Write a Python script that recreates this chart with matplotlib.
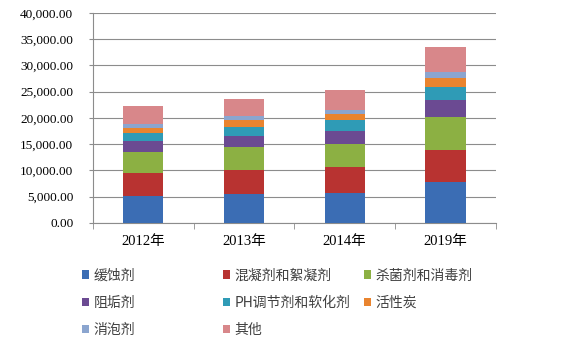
import matplotlib.pyplot as plt
import numpy as np
from matplotlib.ticker import FuncFormatter, FixedLocator

plt.rcParams['font.family'] = ['Liberation Serif', 'Noto Sans CJK SC', 'DejaVu Sans']

years = ['2012年', '2013年', '2014年', '2019年']
categories = ['缓蚀剂', '混凝剂和絮凝剂', '杀菌剂和消毒剂', '阻垢剂',
              'PH调节剂和软化剂', '活性炭', '消泡剂', '其他']
values = [
    [5200, 5460, 5780, 7750],   # 缓蚀剂
    [4260, 4570, 4830, 6220],   # 混凝剂和絮凝剂
    [4130, 4380, 4510, 6160],   # 杀菌剂和消毒剂
    [2030, 2220, 2480, 3240],   # 阻垢剂
    [1460, 1590, 1970, 2480],   # PH调节剂和软化剂
    [1020, 1330, 1140, 1710],   # 活性炭
    [820, 760, 890, 1140],      # 消泡剂
    [3430, 3370, 3680, 4890],   # 其他
]
colors = ['#3b6db4', '#b83331', '#8cb043', '#6b4a92',
          '#2f9bb6', '#e9842f', '#8ba5cf', '#d8878a']


def main():
    fig = plt.figure(figsize=(5.8, 3.59), dpi=100)
    ax = fig.add_axes([0.160, 0.379, 0.695, 0.585])

    x = np.arange(len(years))
    bottom = np.zeros(len(years))
    handles = []
    for vals, c, name in zip(values, colors, categories):
        b = ax.bar(x, vals, 0.4, bottom=bottom, color=c, label=name, zorder=3)
        handles.append(b)
        bottom += np.array(vals)

    ax.set_xlim(-0.5, len(years) - 0.5)
    ax.set_ylim(0, 40000)
    ax.set_yticks(np.arange(0, 40001, 5000))
    ax.yaxis.set_major_formatter(FuncFormatter(lambda v, p: f'{v:,.2f}'))
    ax.grid(axis='y', color='#8c8c8c', linewidth=0.8, zorder=0)

    ax.set_xticks(x)
    ax.set_xticklabels(years, fontsize=10.5)
    ax.xaxis.set_minor_locator(FixedLocator(np.arange(-0.5, len(years), 1.0)))
    ax.tick_params(axis='x', which='major', length=0, pad=9)
    ax.tick_params(axis='x', which='minor', length=4, color='#8c8c8c')
    ax.tick_params(axis='y', labelsize=9.5, length=3, color='#8c8c8c', pad=11)

    for s in ['top', 'right']:
        ax.spines[s].set_visible(False)
    for s in ['left', 'bottom']:
        ax.spines[s].set_color('#8c8c8c')

    # legend: three columns placed by hand
    col_x = [0.141, 0.384, 0.627]
    cols = [[0, 3, 6], [1, 4, 7], [2, 5]]
    for cx, idx in zip(col_x, cols):
        fig.legend([handles[i] for i in idx], [categories[i] for i in idx],
                   loc='upper left', bbox_to_anchor=(cx, 0.252), frameon=False,
                   prop={'family': ['Noto Sans CJK SC', 'DejaVu Sans'], 'size': 10},
                   handlelength=0.55, handleheight=0.55, handletextpad=0.3,
                   labelspacing=0.95, borderaxespad=0, borderpad=0,
                   labelcolor='#404040')

    fig.savefig('out.png', dpi=100)
    plt.close(fig)


if __name__ == "__main__":
    main()
